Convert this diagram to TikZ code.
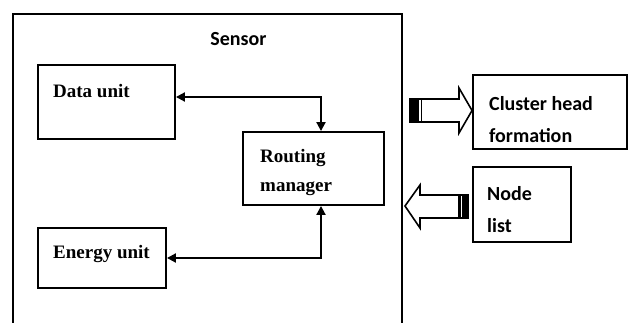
\documentclass[tikz,border=0pt]{standalone}
\usepackage{fontspec}
\setmainfont{Liberation Serif}
\newfontfamily\calfont{Carlito}
\usetikzlibrary{arrows.meta}
\tikzset{
  unitbox/.style={draw, line width=1.9pt, inner sep=0pt},
  outerbox/.style={draw, line width=1.5pt, inner sep=0pt},
  conn/.style={line width=2pt, {Triangle[length=9pt,width=9pt]}-{Triangle[length=9pt,width=9pt]}},
  blockarrow/.style={draw, line width=1.6pt, fill=white, line join=miter},
  sertext/.style={inner sep=0pt, anchor=base west, align=left, font=\bfseries\fontsize{19}{29}\selectfont},
  caltext/.style={inner sep=0pt, anchor=base west, align=left, font=\calfont\bfseries\fontsize{20}{32}\selectfont},
}
\begin{document}
\begin{tikzpicture}[x=1pt,y=-1pt]
\clip (0,0) rectangle (629,322);
\fill[white] (0,0) rectangle (629,322);
% boxes
\node[outerbox, minimum width=389pt, minimum height=330pt] (sensor) at (207.5,179) {};
\node[unitbox, minimum width=137pt, minimum height=74pt] (data) at (106.5,102) {};
\node[unitbox, minimum width=141pt, minimum height=73pt] (routing) at (313.5,168.5) {};
\node[unitbox, minimum width=128pt, minimum height=60pt] (energy) at (102,258) {};
\node[unitbox, minimum width=154pt, minimum height=74pt] (cluster) at (550,112) {};
\node[unitbox, minimum width=98pt, minimum height=75pt] (nodelist) at (522,204.5) {};
% texts
\node[caltext, anchor=base] (sensorlbl) at (238.5,45) {Sensor};
\node[sertext] (datalbl) at (53,97) {Data unit};
\node[sertext] (routinglbl) at (260,191) {Routing\\manager};
\node[sertext] (energylbl) at (53,258) {Energy unit};
\node[caltext] (clusterlbl) at (489,142) {Cluster head\\formation};
\node[caltext] (nodelistlbl) at (487,232) {Node\\list};
% connectors
\draw[conn] ([yshift=5pt]data.east) -| ([xshift=7.5pt]routing.north);
\draw[conn] ([xshift=7.5pt]routing.south) |- (energy.east);
% block arrow to cluster head formation
\draw[blockarrow] (410,99) -- (459,99) -- (459,88) -- (cluster.west |- 0,110.5) -- (459,133) -- (459,122) -- (410,122) -- cycle;
\fill[black] (410,99) rectangle (419,122);
\draw[line width=1pt] (421,99) -- (421,122);
% block arrow from node list
\draw[blockarrow] (468,195) -- (420,195) -- (420,185) -- (405,206) -- (420,228) -- (420,218) -- (468,218) -- cycle;
\fill[black] (458,195) rectangle (468,218);
\draw[white, line width=1pt] (461,196) -- (461,217);
\end{tikzpicture}
\end{document}
